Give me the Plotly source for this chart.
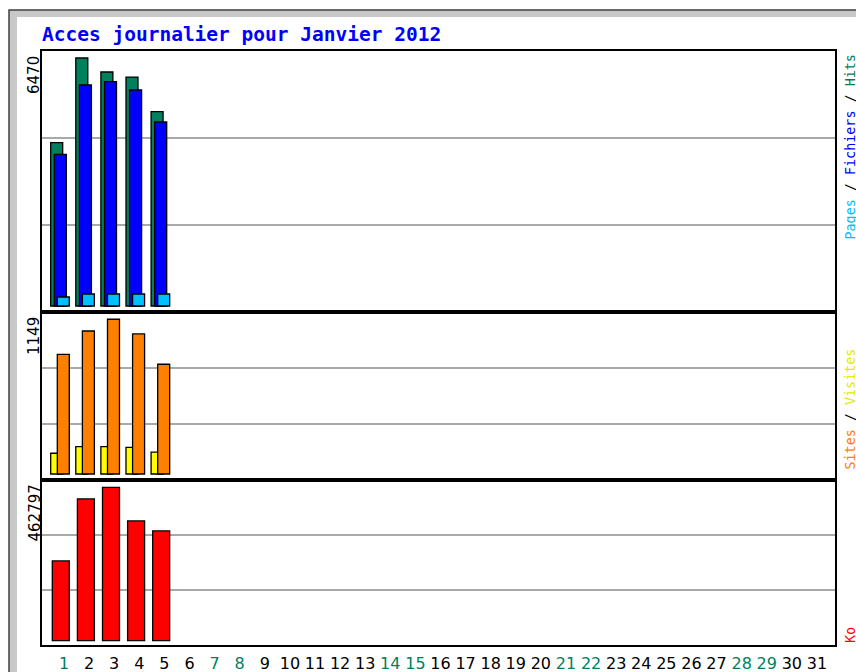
import plotly.graph_objects as go

# ---------------- data ----------------
days = list(range(1, 32))
data_days = [1, 2, 3, 4, 5]
hits = [4260, 6470, 6105, 5974, 5069]
fichiers = [3958, 5766, 5852, 5635, 4800]
pages = [235, 313, 313, 313, 313]
visites = [154, 203, 203, 198, 163]
sites = [889, 1062, 1149, 1040, 815]
kbytes = [240600, 427800, 462797, 361300, 331100]
weekend_days = [1, 7, 8, 14, 15, 21, 22, 28, 29]
max_labels = ["6470", "1149", "462797"]
title_text = "Acces journalier pour Janvier 2012"

# ---------------- layout helpers ----------------
W, H = 856, 672
def px(x):
    return x / W
def py(y):
    return 1 - y / H

C_HIT = "#00805C"
C_FILE = "#0000FF"
C_PAGE = "#00C0FF"
C_VISIT = "#FFFF00"
C_SITE = "#FF8000"
C_KB = "#FF0000"
MONO = "DejaVu Sans Mono"
SANS = "DejaVu Sans"

fig = go.Figure()

def bar(x, y, color, off, width, xa, ya):
    return go.Bar(x=x, y=y, offset=off, width=width, xaxis=xa, yaxis=ya,
                  marker=dict(color=color, line=dict(color="black", width=1.3)),
                  showlegend=False, hoverinfo="skip")

# panel 1
fig.add_trace(bar(data_days, hits, C_HIT, -0.53, 0.478, "x", "y"))
fig.add_trace(bar(data_days, fichiers, C_FILE, -0.386, 0.478, "x", "y"))
fig.add_trace(bar(data_days, pages, C_PAGE, -0.267, 0.478, "x", "y"))
# panel 2
fig.add_trace(bar(data_days, visites, C_VISIT, -0.53, 0.478, "x2", "y2"))
fig.add_trace(bar(data_days, sites, C_SITE, -0.267, 0.478, "x2", "y2"))
# panel 3
fig.add_trace(bar(data_days, kbytes, C_KB, -0.466, 0.677, "x3", "y3"))

xrange_ = [0.1235, 31.72]
xdom = [px(42), px(835)]

def xax(show_labels, anchor):
    d = dict(domain=xdom, range=xrange_, showgrid=False, zeroline=False,
             showline=True, mirror=True, linecolor="black", linewidth=2,
             anchor=anchor, fixedrange=True)
    if show_labels:
        ticktext = [
            (f"<span style='color:{C_HIT}'>{d_}</span>" if d_ in weekend_days else str(d_))
            for d_ in days
        ]
        d.update(tickmode="array", tickvals=days, ticktext=ticktext,
                 tickfont=dict(family=SANS, size=16, color="black"),
                 ticks="", showticklabels=True, ticklabelstandoff=3)
    else:
        d.update(showticklabels=False, ticks="")
    return d

def yax(dom, rng, anchor):
    return dict(domain=dom, range=rng, showgrid=False, zeroline=False,
                showline=True, mirror=True, linecolor="black", linewidth=2,
                showticklabels=False, ticks="", anchor=anchor, fixedrange=True)

fig.update_layout(
    width=W, height=H,
    margin=dict(l=0, r=0, t=0, b=0),
    paper_bgcolor="white",
    plot_bgcolor="rgba(0,0,0,0)",
    barmode="overlay",
    xaxis=xax(False, "y"),
    yaxis=yax([py(312), py(51)], [-156.5, 6653], "x"),
    xaxis2=xax(False, "y2"),
    yaxis2=yax([py(480), py(312)], [-44.6, 1203], "x2"),
    xaxis3=xax(True, "y3"),
    yaxis3=yax([py(645), py(480)], [-12970, 484820], "x3"),
)

shapes = []
# outer frame (bevel)
shapes.append(dict(type="rect", xref="paper", yref="paper",
                   x0=px(9), x1=1.2, y0=-0.2, y1=py(10),
                   fillcolor="#c8c8c8", line=dict(color="#404040", width=1.5),
                   layer="below"))
shapes.append(dict(type="rect", xref="paper", yref="paper",
                   x0=px(17), x1=1.2, y0=-0.2, y1=py(17),
                   fillcolor="white", line=dict(width=0), layer="below"))
# grid lines at thirds
for xa, ya in [("x", "y"), ("x2", "y2"), ("x3", "y3")]:
    for f in (1 / 3, 2 / 3):
        shapes.append(dict(type="line", xref=f"{xa} domain", yref=f"{ya} domain",
                           x0=0, x1=1, y0=f, y1=f,
                           line=dict(color="#8c8c8c", width=1.5), layer="below"))
fig.update_layout(shapes=shapes)

ann = []
ann.append(dict(text=title_text, xref="paper", yref="paper", x=px(40), y=py(34),
                xanchor="left", yanchor="middle", showarrow=False,
                font=dict(family=MONO, size=19.5, color="#0000FF", weight="bold")))
# max labels
for lab, top in zip(max_labels, [54, 315, 483]):
    ann.append(dict(text=lab, xref="paper", yref="paper", x=px(34), y=py(top),
                    xanchor="center", yanchor="top", textangle=-90, showarrow=False,
                    font=dict(family=SANS, size=15, color="black")))
# right side legends
def legend_text(parts):
    return "".join(f"<span style='color:{c}'>{t}</span>" for t, c in parts)

LEG = 13.4
ann.append(dict(text=legend_text([("Pages", C_PAGE), (" / ", "black"), ("Fichiers", C_FILE),
                                  (" / ", "black"), ("Hits", C_HIT)]),
                xref="paper", yref="paper", x=px(850), y=py(242), xanchor="center",
                yanchor="bottom", textangle=-90, showarrow=False,
                font=dict(family=MONO, size=LEG)))
ann.append(dict(text=legend_text([("Sites", C_SITE), (" / ", "black"), ("Visites", "#E8E800")]),
                xref="paper", yref="paper", x=px(850), y=py(472), xanchor="center",
                yanchor="bottom", textangle=-90, showarrow=False,
                font=dict(family=MONO, size=LEG)))
ann.append(dict(text=legend_text([("Ko", C_KB)]),
                xref="paper", yref="paper", x=px(850), y=py(645), xanchor="center",
                yanchor="bottom", textangle=-90, showarrow=False,
                font=dict(family=MONO, size=LEG)))
fig.update_layout(annotations=ann)

fig.write_html(
    "out.html",
    config={"displayModeBar": False},
    post_script="document.body.style.margin='0';document.body.style.overflow='hidden';",
)
